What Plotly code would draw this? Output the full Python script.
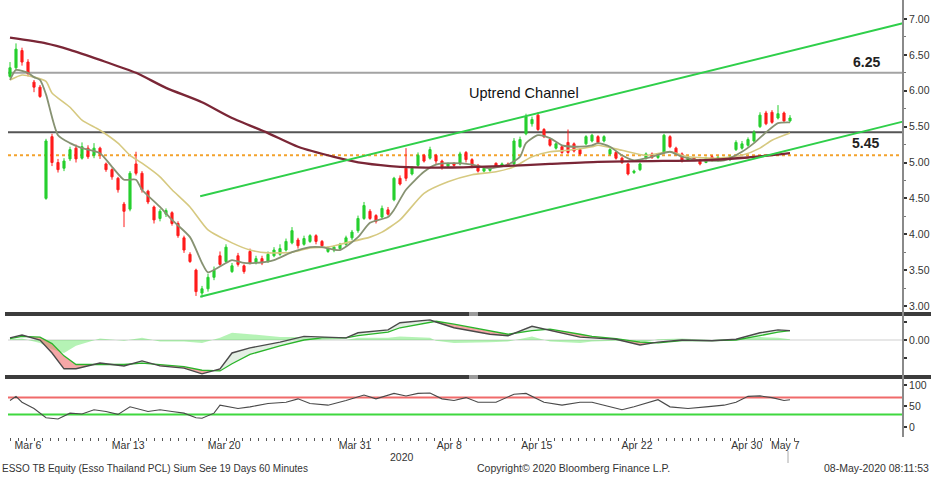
import numpy as np
import plotly.graph_objects as go

W, H = 931, 479


def px(x):
    return x / W


def py(y):
    return 1 - y / H


# ---------------- price candles (bar number 0..130) ----------------
bar_open = [6.20, 6.32, 6.56, 6.40, 6.12, 6.05, 4.50, 5.36, 5.00, 4.92,
            5.05, 5.20, 5.06, 5.20, 5.10, 5.20, 4.98, 4.90, 4.78, 4.42,
            4.35, 4.98, 4.85, 4.60, 4.38, 4.22, 4.28, 4.30, 4.15, 3.95,
            3.72, 3.50, 3.18, 3.24, 3.40, 3.70, 3.62, 3.48, 3.70, 3.56,
            3.76, 3.60, 3.66, 3.62, 3.70, 3.72, 3.78, 3.88, 3.92, 3.86,
            3.90, 3.98, 3.90, 3.76, 3.78, 3.80, 3.86, 3.95, 4.05, 4.22,
            4.32, 4.26, 4.24, 4.34, 4.48, 4.78, 4.92, 4.84, 4.96, 5.10,
            5.06, 5.10, 5.02, 4.95, 4.99, 4.98, 5.14, 5.04, 4.96, 4.88,
            4.89, 4.99, 4.95, 4.98, 4.98, 5.22, 5.40, 5.54, 5.66, 5.46,
            5.32, 5.20, 5.22, 5.28, 5.26, 5.18, 5.26, 5.30, 5.36, 5.30,
            5.12, 5.14, 5.06, 4.98, 4.86, 4.90, 5.06, 5.12, 5.07, 5.14,
            5.36, 5.20, 5.12, 5.03, 5.07, 5.04, 5.00, 5.08, 5.03, 5.04,
            5.04, 5.18, 5.20, 5.24, 5.30, 5.50, 5.69, 5.70, 5.62, 5.69,
            5.58]
bar_high = [6.40, 6.66, 6.60, 6.44, 6.15, 6.08, 5.33, 5.40, 5.05, 5.06,
            5.22, 5.25, 5.28, 5.24, 5.27, 5.22, 5.00, 4.92, 4.80, 4.45,
            4.88, 5.15, 4.88, 4.62, 4.40, 4.35, 4.36, 4.32, 4.18, 3.98,
            3.75, 3.52, 3.28, 3.45, 3.55, 3.76, 3.86, 3.60, 3.74, 3.58,
            3.80, 3.70, 3.70, 3.76, 3.82, 3.86, 3.94, 4.10, 3.95, 3.98,
            4.00, 4.00, 3.92, 3.83, 3.84, 3.88, 3.98, 4.06, 4.26, 4.45,
            4.35, 4.28, 4.40, 4.38, 4.80, 4.82, 5.20, 4.95, 5.14, 5.12,
            5.22, 5.12, 5.04, 5.00, 5.00, 5.15, 5.16, 5.06, 4.98, 4.94,
            4.93, 5.00, 5.00, 5.00, 5.34, 5.36, 5.68, 5.64, 5.70, 5.48,
            5.34, 5.28, 5.24, 5.46, 5.28, 5.20, 5.38, 5.40, 5.38, 5.38,
            5.20, 5.16, 5.08, 5.00, 4.90, 5.00, 5.14, 5.14, 5.12, 5.40,
            5.38, 5.22, 5.14, 5.09, 5.08, 5.05, 5.08, 5.10, 5.09, 5.08,
            5.10, 5.31, 5.30, 5.35, 5.45, 5.70, 5.72, 5.73, 5.80, 5.71,
            5.66]
bar_low = [6.18, 6.30, 6.35, 6.20, 5.98, 5.90, 4.48, 4.95, 4.86, 4.88,
           5.02, 5.00, 5.04, 5.05, 5.06, 5.05, 4.87, 4.76, 4.58, 4.10,
           4.32, 4.82, 4.58, 4.42, 4.15, 4.18, 4.24, 4.12, 3.95, 3.74,
           3.60, 3.14, 3.12, 3.20, 3.36, 3.56, 3.60, 3.46, 3.55, 3.45,
           3.58, 3.58, 3.57, 3.60, 3.68, 3.70, 3.76, 3.86, 3.80, 3.84,
           3.88, 3.86, 3.82, 3.74, 3.75, 3.78, 3.84, 3.92, 4.02, 4.20,
           4.20, 4.15, 4.22, 4.26, 4.46, 4.68, 4.74, 4.82, 4.94, 5.00,
           5.04, 4.98, 4.90, 4.94, 4.94, 4.96, 5.00, 4.92, 4.86, 4.86,
           4.87, 4.94, 4.94, 4.95, 4.96, 5.20, 5.38, 5.50, 5.44, 5.34,
           5.22, 5.18, 5.12, 5.12, 5.14, 5.10, 5.24, 5.28, 5.26, 5.28,
           5.10, 5.04, 4.98, 4.82, 4.84, 4.88, 5.04, 5.05, 5.05, 5.12,
           5.20, 5.10, 5.00, 5.02, 5.02, 4.96, 4.99, 5.01, 5.01, 5.02,
           5.02, 5.16, 5.18, 5.22, 5.28, 5.48, 5.52, 5.54, 5.60, 5.56,
           5.56]
bar_close = [6.32, 6.58, 6.40, 6.24, 6.05, 5.92, 5.30, 5.00, 4.90, 5.02,
             5.18, 5.05, 5.22, 5.08, 5.20, 5.12, 4.90, 4.80, 4.62, 4.32,
             4.85, 4.85, 4.62, 4.45, 4.20, 4.32, 4.33, 4.15, 3.98, 3.78,
             3.62, 3.20, 3.24, 3.40, 3.50, 3.58, 3.82, 3.56, 3.58, 3.48,
             3.60, 3.66, 3.60, 3.72, 3.78, 3.80, 3.90, 4.05, 3.84, 3.94,
             3.98, 3.90, 3.84, 3.80, 3.82, 3.86, 3.95, 4.03, 4.22, 4.40,
             4.22, 4.18, 4.36, 4.28, 4.78, 4.70, 4.78, 4.92, 5.10, 5.02,
             5.18, 5.02, 4.94, 4.98, 4.96, 5.12, 5.04, 4.96, 4.88, 4.92,
             4.91, 4.95, 4.98, 4.96, 5.30, 5.32, 5.64, 5.60, 5.46, 5.36,
             5.24, 5.26, 5.14, 5.14, 5.16, 5.12, 5.36, 5.38, 5.28, 5.36,
             5.18, 5.06, 5.00, 4.84, 4.88, 4.98, 5.12, 5.07, 5.10, 5.38,
             5.22, 5.12, 5.02, 5.07, 5.04, 4.98, 5.06, 5.03, 5.07, 5.06,
             5.08, 5.28, 5.26, 5.32, 5.42, 5.66, 5.54, 5.56, 5.68, 5.58,
             5.62]
bar_x = list(range(len(bar_open)))

# ---------------- moving averages (bar number, value) ----------------
ma_slow_x = [0, 6, 10, 15, 21, 26, 32, 37, 43, 48, 54, 59, 65, 73, 82, 90, 98, 107, 115, 123, 130]
ma_slow_y = [6.74, 6.66, 6.57, 6.43, 6.25, 6.04, 5.84, 5.62, 5.41, 5.22, 5.08, 4.99, 4.94,
             4.93, 4.95, 4.98, 5.01, 5.02, 5.03, 5.07, 5.13]

ma_fast_x = [0, 1, 3, 4, 5, 6, 8, 10, 12, 15, 17, 19, 21, 22, 25, 27, 30, 32, 33, 36, 37,
             39, 41, 44, 47, 50, 52, 55, 58, 60, 63, 64, 66, 69, 71, 74, 77, 80, 83, 85,
             86, 88, 90, 92, 95, 97, 98, 100, 102, 104, 107, 110, 112, 115, 119, 122, 124,
             126, 128, 130]
ma_fast_y = [6.15, 6.29, 6.25, 6.19, 6.15, 5.95, 5.38, 5.27, 5.20, 5.13, 4.94, 4.76, 4.76,
             4.62, 4.38, 4.20, 3.96, 3.60, 3.47, 3.60, 3.64, 3.60, 3.60, 3.64, 3.75, 3.82,
             3.82, 3.78, 3.96, 4.16, 4.24, 4.34, 4.62, 4.87, 4.97, 4.99, 4.97, 4.92, 4.97,
             5.08, 5.27, 5.38, 5.34, 5.24, 5.22, 5.24, 5.27, 5.22, 5.10, 5.03, 5.08, 5.15,
             5.08, 5.03, 5.03, 5.15, 5.27, 5.42, 5.55, 5.56]

ma_mid_x = [0, 2, 4, 6, 7, 10, 12, 15, 18, 20, 22, 25, 27, 30, 33, 37, 40, 43, 47, 50, 53,
            56, 60, 62, 65, 69, 73, 77, 81, 84, 87, 90, 93, 97, 98, 102, 106, 110, 113,
            118, 122, 125, 127, 130]
ma_mid_y = [6.15, 6.22, 6.19, 6.13, 5.97, 5.77, 5.59, 5.45, 5.27, 5.10, 4.99, 4.80, 4.62,
            4.38, 4.06, 3.88, 3.78, 3.74, 3.75, 3.81, 3.82, 3.88, 3.96, 4.03, 4.20, 4.57,
            4.73, 4.83, 4.87, 4.94, 5.08, 5.15, 5.17, 5.22, 5.24, 5.17, 5.10, 5.15, 5.08,
            5.06, 5.10, 5.20, 5.31, 5.41]

# ---------------- channel + levels ----------------
chan_x = [31.7, 148.8]
chan_upper = [4.53, 6.94]
chan_lower = [3.13, 5.57]
level_hi = 6.25
level_mid = 5.42
level_dot = 5.10
label_hi = "6.25"
label_mid = "5.45"

# ---------------- MACD panel ----------------
macd_x = [0, 2, 5, 7, 9, 11, 15, 19, 22, 25, 29, 32, 35, 37, 40, 45, 49, 52, 56, 58, 63,
          65, 70, 71, 74, 80, 83, 87, 90, 95, 97, 101, 105, 108, 112, 117, 121, 125, 128, 130]
macd_line = [0.03, 0.07, 0.00, -0.18, -0.40, -0.40, -0.32, -0.36, -0.29, -0.36, -0.39,
             -0.47, -0.40, -0.18, -0.11, -0.03, 0.05, 0.04, 0.03, 0.10, 0.14, 0.24, 0.28,
             0.25, 0.17, 0.08, 0.06, 0.19, 0.13, 0.04, 0.03, 0.01, -0.07, -0.03, 0.00,
             -0.01, 0.01, 0.10, 0.14, 0.13]
macd_signal = [0.02, 0.05, 0.04, -0.05, -0.22, -0.34, -0.34, -0.34, -0.32, -0.34, -0.37,
               -0.42, -0.43, -0.33, -0.20, -0.08, 0.00, 0.03, 0.03, 0.06, 0.11, 0.17, 0.25,
               0.26, 0.22, 0.12, 0.08, 0.13, 0.15, 0.08, 0.05, 0.02, -0.03, -0.04, -0.01,
               -0.01, 0.00, 0.06, 0.11, 0.13]
macd_hist = [0.01, 0.02, -0.04, -0.13, -0.18, -0.08, 0.02, -0.01, 0.03, -0.02, -0.02,
             -0.04, 0.03, 0.10, 0.08, 0.04, 0.04, 0.01, 0.00, 0.03, 0.03, 0.05, 0.03,
             -0.01, -0.04, -0.03, -0.02, 0.05, -0.02, -0.04, -0.02, -0.01, -0.04, 0.01,
             0.02, 0.00, 0.01, 0.04, 0.03, 0.01]

# ---------------- RSI panel ----------------
rsi_x = [0, 1, 2, 4, 6, 8, 10, 12, 14, 16, 18, 20, 23, 25, 27, 29, 31, 32, 34, 35, 38, 40,
         43, 46, 48, 50, 53, 56, 59, 61, 64, 66, 68, 70, 72, 74, 76, 78, 81, 84, 86, 89,
         92, 95, 97, 99, 102, 104, 106, 108, 110, 113, 116, 119, 121, 123, 125, 127, 129, 130]
rsi_y = [63, 73, 59, 44, 22, 19, 33, 31, 41, 37, 30, 48, 37, 41, 37, 33, 22, 21, 33, 52,
         44, 48, 56, 59, 67, 56, 52, 63, 76, 67, 80, 74, 80, 81, 67, 63, 70, 59, 59, 78,
         80, 59, 52, 59, 59, 52, 41, 48, 56, 65, 48, 44, 48, 52, 59, 73, 74, 70, 63, 65]
rsi_hi = 70
rsi_lo = 30

# ---------------- axes text ----------------
date_ticks = [3.0, 19.7, 35.7, 57.5, 73.2, 87.8, 104.5, 122.8, 129.2]
date_labels = ["Mar 6", "Mar 13", "Mar 20", "Mar 31", "Apr 8", "Apr 15", "Apr 22", "Apr 30", "May 7"]
price_ticks = [3.0, 3.5, 4.0, 4.5, 5.0, 5.5, 6.0, 6.5, 7.0]
price_minor = [3.25, 3.75, 4.25, 4.75, 5.25, 5.75, 6.25, 6.75]
macd_ticks = [-0.25, 0.0, 0.25]
macd_labels = ["", "0.00", ""]
rsi_ticks = [0, 50, 100]

GREEN = "#27cf2f"
RED = "#ff1c1c"
FAM = "Liberation Sans, Arial, sans-serif"
TICKFONT = dict(family=FAM, size=10.5, color="#333")

fig = go.Figure()

# candles
fig.add_trace(go.Candlestick(
    x=bar_x, open=bar_open, high=bar_high, low=bar_low, close=bar_close,
    xaxis="x", yaxis="y", whiskerwidth=0, hoverinfo="skip",
    increasing=dict(line=dict(color=GREEN, width=1), fillcolor=GREEN),
    decreasing=dict(line=dict(color=RED, width=1), fillcolor=RED)))

# moving averages
fig.add_trace(go.Scatter(x=ma_mid_x, y=ma_mid_y, mode="lines", xaxis="x", yaxis="y",
                         line=dict(color="#d6c980", width=1.6, shape="spline", smoothing=0.6)))
fig.add_trace(go.Scatter(x=ma_fast_x, y=ma_fast_y, mode="lines", xaxis="x", yaxis="y",
                         line=dict(color="#879272", width=1.8, shape="spline", smoothing=0.6)))
fig.add_trace(go.Scatter(x=ma_slow_x, y=ma_slow_y, mode="lines", xaxis="x", yaxis="y",
                         line=dict(color="#7a2636", width=2.3, shape="spline", smoothing=0.6)))

# channel
fig.add_trace(go.Scatter(x=chan_x, y=chan_upper, mode="lines", xaxis="x", yaxis="y",
                         line=dict(color="#2fcf4a", width=2)))
fig.add_trace(go.Scatter(x=chan_x, y=chan_lower, mode="lines", xaxis="x", yaxis="y",
                         line=dict(color="#2fcf4a", width=2)))

# MACD histogram (area)
fig.add_trace(go.Scatter(x=macd_x, y=macd_hist, mode="none", fill="tozeroy",
                         fillcolor="rgba(70,225,70,0.4)", xaxis="x", yaxis="y2"))

# MACD fills between lines
pink_x, pink_y, grn_x, grn_y = [], [], [], []
for k in range(len(macd_x) - 1):
    xs = [macd_x[k], macd_x[k + 1], macd_x[k + 1], macd_x[k], macd_x[k]]
    ys = [macd_line[k], macd_line[k + 1], macd_signal[k + 1], macd_signal[k], macd_line[k]]
    d = (macd_line[k] - macd_signal[k]) + (macd_line[k + 1] - macd_signal[k + 1])
    if d < 0:
        pink_x += xs + [None]
        pink_y += ys + [None]
    else:
        grn_x += xs + [None]
        grn_y += ys + [None]
fig.add_trace(go.Scatter(x=pink_x, y=pink_y, mode="none", fill="toself",
                         fillcolor="rgba(240,120,120,0.65)", xaxis="x", yaxis="y2"))
fig.add_trace(go.Scatter(x=grn_x, y=grn_y, mode="none", fill="toself",
                         fillcolor="rgba(205,225,205,0.55)", xaxis="x", yaxis="y2"))
fig.add_trace(go.Scatter(x=macd_x, y=macd_signal, mode="lines", xaxis="x", yaxis="y2",
                         line=dict(color="#2ab52a", width=1.3)))
fig.add_trace(go.Scatter(x=macd_x, y=macd_line, mode="lines", xaxis="x", yaxis="y2",
                         line=dict(color="#4a4a4a", width=1.4)))

# RSI fills
fig.add_trace(go.Scatter(x=rsi_x, y=[rsi_hi] * len(rsi_x), mode="none", xaxis="x", yaxis="y3"))
fig.add_trace(go.Scatter(x=rsi_x, y=[max(v, rsi_hi) for v in rsi_y], mode="none", fill="tonexty",
                         fillcolor="rgba(250,130,130,0.6)", xaxis="x", yaxis="y3"))
fig.add_trace(go.Scatter(x=rsi_x, y=[rsi_lo] * len(rsi_x), mode="none", xaxis="x", yaxis="y3"))
fig.add_trace(go.Scatter(x=rsi_x, y=[min(v, rsi_lo) for v in rsi_y], mode="none", fill="tonexty",
                         fillcolor="rgba(120,230,120,0.6)", xaxis="x", yaxis="y3"))
fig.add_trace(go.Scatter(x=rsi_x, y=rsi_y, mode="lines", xaxis="x", yaxis="y3",
                         line=dict(color="#4a4a4a", width=1.1)))

shapes = []
# price levels
shapes.append(dict(type="line", xref="paper", yref="y", x0=px(8), x1=px(903), y0=level_hi, y1=level_hi,
                   line=dict(color="#a3a3a3", width=2), layer="below"))
shapes.append(dict(type="line", xref="paper", yref="y", x0=px(8), x1=px(903), y0=level_mid, y1=level_mid,
                   line=dict(color="#555555", width=2), layer="below"))
shapes.append(dict(type="line", xref="paper", yref="y", x0=px(8), x1=px(903), y0=level_dot, y1=level_dot,
                   line=dict(color="#f3a22c", width=2, dash="dot"), layer="below"))
# macd zero line
shapes.append(dict(type="line", xref="paper", yref="y2", x0=px(8), x1=px(903), y0=0, y1=0,
                   line=dict(color="#cfcfcf", width=1), layer="below"))
# rsi lines
shapes.append(dict(type="line", xref="paper", yref="y3", x0=px(8), x1=px(903), y0=rsi_hi, y1=rsi_hi,
                   line=dict(color="#f06a6a", width=2), layer="below"))
shapes.append(dict(type="line", xref="paper", yref="y3", x0=px(8), x1=px(903), y0=rsi_lo, y1=rsi_lo,
                   line=dict(color="#3fd83f", width=2), layer="below"))
# panel separators
for top in (312, 375):
    shapes.append(dict(type="rect", xref="paper", yref="paper", x0=px(5), x1=px(931),
                       y0=py(top + 4), y1=py(top), line=dict(width=0), fillcolor="#3c3c3c"))
    shapes.append(dict(type="rect", xref="paper", yref="paper", x0=px(469), x1=px(478),
                       y0=py(top + 4), y1=py(top), line=dict(width=0), fillcolor="#9a9a9a"))
# right axis line
shapes.append(dict(type="line", xref="paper", yref="paper", x0=px(903), x1=px(903), y0=py(437), y1=1,
                   line=dict(color="#8a8a8a", width=2)))
# current-date marker
shapes.append(dict(type="line", xref="paper", yref="paper", x0=px(788), x1=px(788), y0=py(463), y1=py(451),
                   line=dict(color="#aaaaaa", width=1)))


def ann(text, x, y, size, xanchor="center", color="#333"):
    return dict(text=text, x=px(x), y=py(y), xref="paper", yref="paper", showarrow=False,
                xanchor=xanchor, yanchor="middle", font=dict(family=FAM, size=size, color=color))


annotations = [
    ann("Uptrend Channel", 524, 93, 14.5, color="#111"),
    ann("<b>" + label_hi + "</b>", 866, 62, 14, color="#222"),
    ann("<b>" + label_mid + "</b>", 865, 143, 14, color="#222"),
    ann("2020", 402, 457, 10.5),
    ann("ESSO TB Equity (Esso Thailand PCL) Sium See 19 Days 60 Minutes", 0, 468, 10, xanchor="left"),
    ann("Copyright\u00a9 2020 Bloomberg Finance L.P.", 573, 468, 10.5),
    ann("08-May-2020 08:11:53", 931, 468, 10.5, xanchor="right"),
]

x_lo, x_hi = (8 - 10) / 6, (903 - 10) / 6
minor_x = list(np.arange(0, 131, 4 / 3))

fig.update_layout(
    width=W, height=H, template="none",
    margin=dict(l=0, r=0, t=0, b=0, pad=0),
    paper_bgcolor="white", plot_bgcolor="white",
    showlegend=False, boxgap=0.5,
    xaxis=dict(domain=[px(8), px(903)], range=[x_lo, x_hi], anchor="y3",
               rangeslider=dict(visible=False), showgrid=False, zeroline=False, showline=False,
               tickmode="array", tickvals=date_ticks, ticktext=date_labels, ticks="",
               tickfont=TICKFONT, automargin=False,
               minor=dict(tickmode="array", tickvals=minor_x, ticks="outside", ticklen=3,
                          tickwidth=1, tickcolor="#555", showgrid=False)),
    yaxis=dict(domain=[py(311), py(5)], range=[7 - (311 - 19) / 71.75, 7 + (19 - 5) / 71.75],
               anchor="x", side="right", showgrid=False, zeroline=False, showline=False,
               tickmode="array", tickvals=price_ticks, ticktext=["%.2f" % v for v in price_ticks],
               ticks="outside", ticklen=3, tickwidth=2, tickcolor="#333", tickfont=TICKFONT,
               automargin=False,
               minor=dict(tickmode="array", tickvals=price_minor, ticks="outside", ticklen=2,
                          tickwidth=1, tickcolor="#777", showgrid=False)),
    yaxis2=dict(domain=[py(375), py(317)], range=[(340 - 375) / 72, (340 - 317) / 72],
                anchor="x", side="right", showgrid=False, zeroline=False, showline=False,
                tickmode="array", tickvals=macd_ticks, ticktext=macd_labels,
                ticks="outside", ticklen=3, tickwidth=2, tickcolor="#333", tickfont=TICKFONT,
                automargin=False),
    yaxis3=dict(domain=[py(437), py(379)], range=[(427 - 437) / 0.42, (427 - 379) / 0.42],
                anchor="x", side="right", showgrid=False, zeroline=False, showline=False,
                tickmode="array", tickvals=rsi_ticks, ticktext=[str(v) for v in rsi_ticks],
                ticks="outside", ticklen=3, tickwidth=2, tickcolor="#333", tickfont=TICKFONT,
                automargin=False),
    shapes=shapes, annotations=annotations,
)

fig.write_html("out.html", config={"displayModeBar": False},
               post_script="document.body.style.margin='0px';document.body.style.overflow='hidden';")
